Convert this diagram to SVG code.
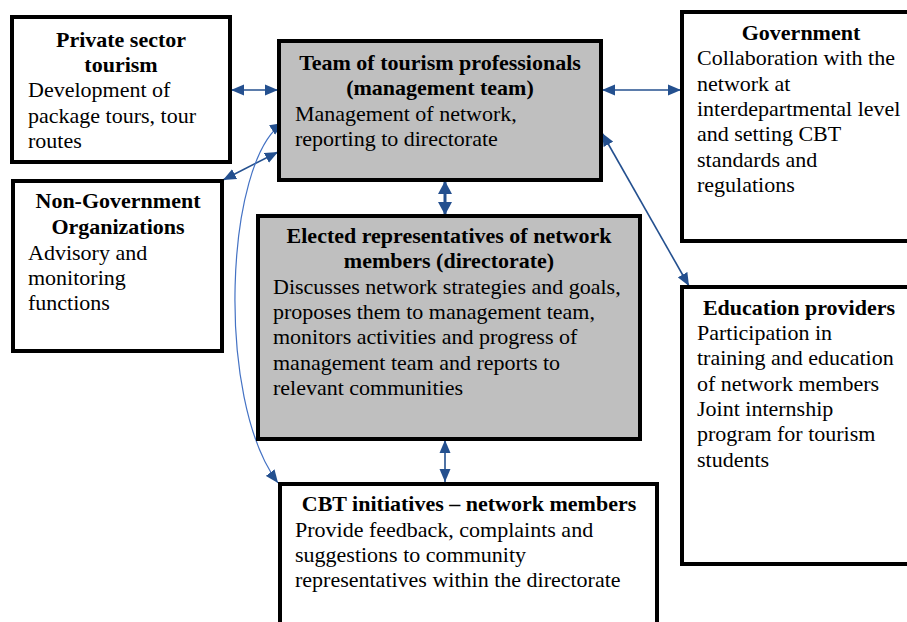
<svg xmlns="http://www.w3.org/2000/svg" width="907" height="622" viewBox="0 0 907 622">
  <style>
    .box { fill: #ffffff; stroke: #000000; stroke-width: 4; }
    .grey { fill: #bfbfbf; }
    text { font-family: "Liberation Serif", "Times New Roman", serif; font-size: 22px; fill: #000000; }
    .h { font-weight: bold; text-anchor: middle; }
    .link { fill: none; stroke: #24508f; stroke-width: 1.6; }
    .thick { stroke-width: 3; }
    .curve { fill: none; stroke: #4472c4; stroke-width: 1.2; }
  </style>
  <defs>
    <marker id="arw" markerUnits="userSpaceOnUse" markerWidth="14" markerHeight="12" refX="13" refY="6" orient="auto-start-reverse">
      <path d="M0,0.5 L13,6 L0,11.5 z" fill="#24508f"/>
    </marker>
    <marker id="arwBig" markerUnits="userSpaceOnUse" markerWidth="14" markerHeight="14" refX="13" refY="7" orient="auto-start-reverse">
      <path d="M0,0 L13,7 L0,14 z" fill="#24508f"/>
    </marker>
  </defs>

  <!-- connectors -->
  <g id="connectors">
    <line class="link" x1="231" y1="90" x2="278" y2="90" marker-start="url(#arw)" marker-end="url(#arw)"/>
    <line class="link" x1="602" y1="90" x2="681" y2="90" marker-start="url(#arw)" marker-end="url(#arw)"/>
    <line class="link" x1="602" y1="133" x2="689" y2="286" marker-start="url(#arw)" marker-end="url(#arw)"/>
    <line class="link" x1="278" y1="152" x2="223" y2="180" marker-start="url(#arw)" marker-end="url(#arw)"/>
    <line class="link thick" x1="445" y1="181" x2="445" y2="215" marker-start="url(#arwBig)" marker-end="url(#arwBig)"/>
    <line class="link" x1="445" y1="440" x2="445" y2="482" marker-start="url(#arw)" marker-end="url(#arw)"/>
    <path class="curve" d="M283,123 C225,160 215,400 278,483" marker-start="url(#arw)" marker-end="url(#arw)"/>
  </g>

  <!-- Private sector tourism -->
  <g id="private-sector">
    <rect class="box" x="12" y="17" width="218" height="145"/>
    <text class="h" x="121" y="47">Private sector</text>
    <text class="h" x="121" y="72">tourism</text>
    <text x="28" y="97">Development of</text>
    <text x="28" y="123">package tours, tour</text>
    <text x="28" y="148">routes</text>
  </g>

  <!-- Management team -->
  <g id="management-team">
    <rect class="box grey" x="279" y="41" width="322" height="139"/>
    <text class="h" x="440" y="70">Team of tourism professionals</text>
    <text class="h" x="440" y="95">(management team)</text>
    <text x="295" y="121">Management of network,</text>
    <text x="295" y="146">reporting to directorate</text>
  </g>

  <!-- Non-Government Organizations -->
  <g id="ngo">
    <rect class="box" x="13" y="181" width="209" height="170"/>
    <text class="h" x="118" y="208">Non-Government</text>
    <text class="h" x="118" y="234">Organizations</text>
    <text x="28" y="260">Advisory and</text>
    <text x="28" y="285">monitoring</text>
    <text x="28" y="310">functions</text>
  </g>

  <!-- Directorate -->
  <g id="directorate">
    <rect class="box grey" x="258" y="216" width="382" height="223"/>
    <text class="h" x="449" y="243">Elected representatives of network</text>
    <text class="h" x="449" y="268">members (directorate)</text>
    <text x="273" y="294">Discusses network strategies and goals,</text>
    <text x="273" y="319">proposes them to management team,</text>
    <text x="273" y="344">monitors activities and progress of</text>
    <text x="273" y="370">management team and reports to</text>
    <text x="273" y="395">relevant communities</text>
  </g>

  <!-- Government -->
  <g id="government">
    <rect class="box" x="682" y="12" width="240" height="229"/>
    <text class="h" x="801" y="40">Government</text>
    <text x="697" y="65">Collaboration with the</text>
    <text x="697" y="91">network at</text>
    <text x="697" y="116">interdepartmental level</text>
    <text x="697" y="141">and setting CBT</text>
    <text x="697" y="167">standards and</text>
    <text x="697" y="192">regulations</text>
  </g>

  <!-- Education providers -->
  <g id="education">
    <rect class="box" x="682" y="287" width="236" height="277"/>
    <text class="h" x="799" y="315">Education providers</text>
    <text x="697" y="340">Participation in</text>
    <text x="697" y="365">training and education</text>
    <text x="697" y="391">of network members</text>
    <text x="697" y="416">Joint internship</text>
    <text x="697" y="441">program for tourism</text>
    <text x="697" y="467">students</text>
  </g>

  <!-- CBT initiatives -->
  <g id="cbt-initiatives">
    <rect class="box" x="280" y="484" width="377" height="160"/>
    <text class="h" x="469" y="511">CBT initiatives – network members</text>
    <text x="295" y="537">Provide feedback, complaints and</text>
    <text x="295" y="562">suggestions to community</text>
    <text x="295" y="587">representatives within the directorate</text>
  </g>
</svg>
